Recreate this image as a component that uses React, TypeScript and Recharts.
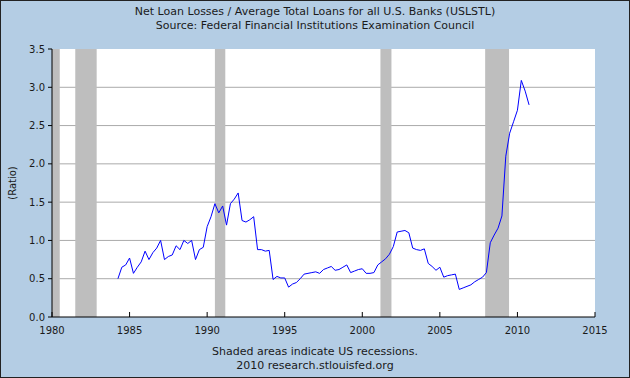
import { CartesianGrid, Line, LineChart, ReferenceArea, XAxis, YAxis } from 'recharts'

// quarterly ratio, first observation 1984 Q2
const startYear = 1984.25
const lossRatio = [
  0.5, 0.65, 0.68,
  0.77, 0.57, 0.65, 0.72,
  0.86, 0.75, 0.84, 0.9,
  1.0, 0.75, 0.79, 0.81,
  0.93, 0.88, 1.0, 0.96,
  1.0, 0.75, 0.88, 0.91,
  1.18, 1.31, 1.48, 1.36,
  1.45, 1.2, 1.48, 1.54,
  1.62, 1.26, 1.24, 1.27,
  1.31, 0.88, 0.88, 0.86,
  0.87, 0.49, 0.53, 0.51,
  0.51, 0.39, 0.43, 0.45,
  0.5, 0.56, 0.57, 0.58,
  0.59, 0.57, 0.62, 0.64,
  0.66, 0.61, 0.62, 0.65,
  0.68, 0.58, 0.6, 0.62,
  0.63, 0.57, 0.57, 0.58,
  0.68, 0.72, 0.76, 0.82,
  0.92, 1.11, 1.12, 1.13,
  1.1, 0.9, 0.88, 0.87,
  0.89, 0.7, 0.66, 0.61,
  0.65, 0.52, 0.54, 0.55,
  0.56, 0.36, 0.38, 0.4,
  0.42, 0.46, 0.49, 0.52,
  0.58, 0.97, 1.07, 1.16,
  1.32, 2.1, 2.4, 2.55,
  2.7, 3.09, 2.95, 2.77,
]

const recessions: [number, number][] = [
  [1980.0, 1980.5],
  [1981.5, 1982.88],
  [1990.5, 1991.17],
  [2001.17, 2001.88],
  [2007.92, 2009.46],
]

const xTicks = [1980, 1985, 1990, 1995, 2000, 2005, 2010, 2015]
const yTicks = [0, 0.5, 1, 1.5, 2, 2.5, 3, 3.5]
const gridValues = [0.5, 1, 1.5, 2, 2.5, 3]

const data = lossRatio.map((v, i) => ({ t: startYear + i * 0.25, v }))

const FONT = '"DejaVu Sans", Verdana, sans-serif'
const INK = '#1a1a1a'
const BG = '#b4cde4'

// x ticks point up into the plot, labels sit below the axis
function XTick({ x, y, payload }: any) {
  return (
    <g>
      <line x1={x} x2={x} y1={y - 5} y2={y} stroke="#000" />
      <text x={x} y={y + 17} textAnchor="middle" fontSize={10} fill={INK} fontFamily={FONT}>
        {payload.value}
      </text>
    </g>
  )
}

const textStyle: React.CSSProperties = {
  position: 'absolute',
  left: 0,
  width: 630,
  textAlign: 'center',
  fontFamily: FONT,
  fontSize: 11,
  color: INK,
  lineHeight: '13px',
}

export default function App() {
  return (
    <div style={{ position: 'absolute', left: 0, top: 0, width: 630, height: 378, background: BG }}>
      <div style={{ ...textStyle, top: 5 }}>Net Loan Losses / Average Total Loans for all U.S. Banks (USLSTL)</div>
      <div style={{ ...textStyle, top: 19 }}>Source: Federal Financial Institutions Examination Council</div>
      <LineChart width={630} height={378} data={data} margin={{ top: 49, right: 35, left: 0, bottom: 0 }}>
        <CartesianGrid fill="#fff" vertical={false} horizontalValues={gridValues} stroke="#aaa" strokeWidth={1} />
        <XAxis
          dataKey="t"
          type="number"
          domain={[1980, 2015]}
          ticks={xTicks}
          interval={0}
          height={61}
          axisLine={{ stroke: '#000' }}
          tickLine={false}
          tickSize={0}
          tickMargin={0}
          tick={<XTick />}
        />
        <YAxis
          type="number"
          domain={[0, 3.5]}
          ticks={yTicks}
          interval={0}
          width={52}
          axisLine={{ stroke: '#000' }}
          tickLine={{ stroke: '#000' }}
          tickSize={4}
          tickMargin={3}
          tickFormatter={(v: number) => v.toFixed(1)}
          tick={{ fontSize: 10, fill: INK, fontFamily: FONT }}
        />
        {recessions.map(([a, b]) => (
          <ReferenceArea key={a} x1={a} x2={b} fill="#bebebe" fillOpacity={1} stroke="none" ifOverflow="hidden" />
        ))}
        <Line type="linear" dataKey="v" stroke="#0000ff" strokeWidth={1} dot={false} isAnimationActive={false} />
      </LineChart>
      <div
        style={{
          position: 'absolute',
          left: 5,
          top: 183,
          fontFamily: FONT,
          fontSize: 10,
          color: INK,
          transform: 'translate(-50%, -50%) rotate(-90deg)',
          marginLeft: 7,
          whiteSpace: 'nowrap',
        }}
      >
        (Ratio)
      </div>
      <div style={{ ...textStyle, top: 345 }}>Shaded areas indicate US recessions.</div>
      <div style={{ ...textStyle, top: 359 }}>2010 research.stlouisfed.org</div>
      <div
        style={{
          position: 'absolute',
          left: 0,
          top: 0,
          width: 630,
          height: 378,
          boxSizing: 'border-box',
          border: '1px solid #222',
          pointerEvents: 'none',
        }}
      />
    </div>
  )
}
